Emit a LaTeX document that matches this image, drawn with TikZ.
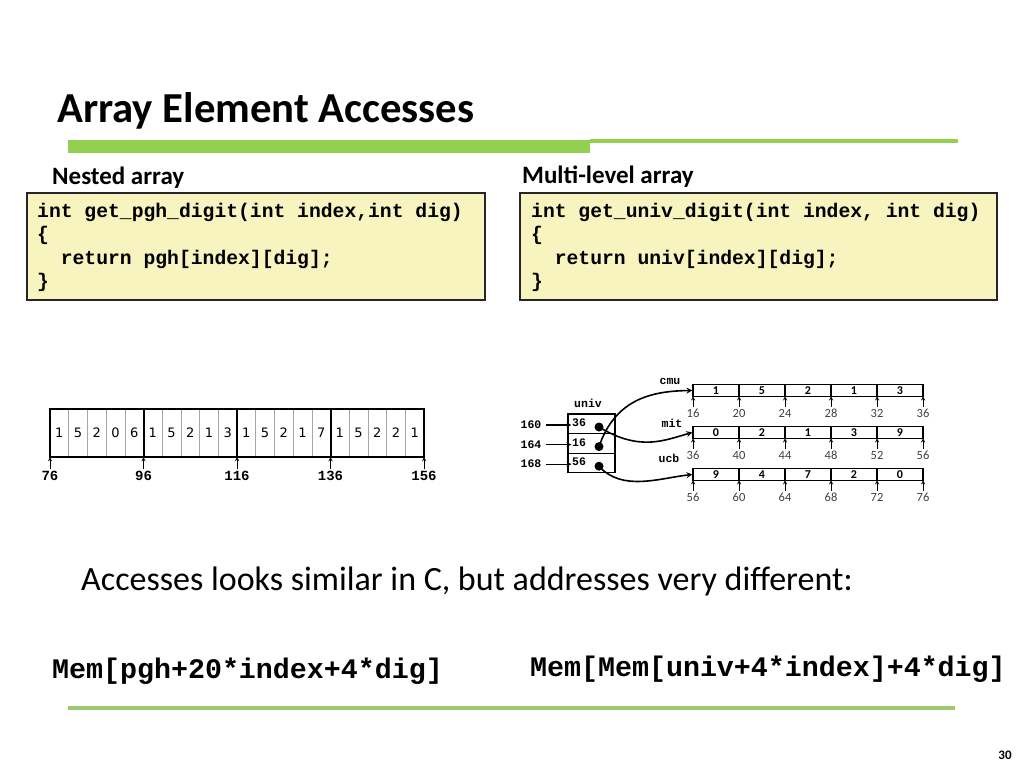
\documentclass[tikz,border=0pt]{standalone}
\usepackage{fontspec}
\setmainfont{Carlito}
\setmonofont{Liberation Mono}
\newfontfamily\digitfont{DejaVu Sans}
\definecolor{slidegreen}{HTML}{92D050}
\definecolor{codeyellow}{HTML}{F8F4C0}

\begin{document}
\begin{tikzpicture}[x=1pt,y=-1pt]
\tikzstyle{every node}=[inner sep=0pt]
\tikzstyle{codebox}=[draw=black!85,line width=1.3pt,fill=codeyellow,minimum height=107]
\tikzstyle{code}=[anchor=base west,font=\fontsize{19.7}{23}\selectfont\ttfamily\bfseries]
\tikzstyle{memline}=[anchor=base west,font=\fontsize{28.3}{32}\selectfont\ttfamily\bfseries]
\tikzstyle{heading}=[anchor=base west,font=\fontsize{25}{30}\selectfont\bfseries]
\tikzstyle{pghcell}=[draw=gray!70,line width=0.6pt,minimum width=18.7,minimum height=48,font=\fontsize{13}{14}\selectfont\digitfont]
\tikzstyle{addrlbl}=[font=\fontsize{14}{15}\selectfont\ttfamily\bfseries]
\tikzstyle{ptrlbl}=[font=\fontsize{11.5}{12}\selectfont\ttfamily\bfseries]
\tikzstyle{univcell}=[draw,line width=1.1pt,minimum width=47,minimum height=19.6]
\tikzstyle{rowcell}=[draw,line width=1.2pt,minimum width=46,minimum height=11.5,font=\fontsize{12}{13}\selectfont\bfseries]
\tikzstyle{rowlbl}=[text=black!75,font=\fontsize{12.5}{13}\selectfont]
\tikzstyle{dot}=[circle,fill,minimum size=9]
\tikzstyle{tickarr}=[->,>=stealth,line width=0.9pt,shorten <=2pt]
\tikzstyle{ptr}=[->,>=stealth,line width=1.6pt]
\useasboundingbox (0,0) rectangle (1024,768);

    % title and rule
    \node[anchor=base west,font=\fontsize{42.7}{50}\selectfont\bfseries] (title) at (57,122) {Array Element Accesses};
    \fill[slidegreen] (68,140) rectangle (590,153);
    \fill[slidegreen] (590,139.3) rectangle (958,142.7);

    % code boxes
    \node[heading] (nestedhd) at (52,184) {Nested array};
    \node[heading] (multihd) at (522,183) {Multi-level array};
    \node[codebox,minimum width=458] (pghbox) at (256,246.5) {};
    \node[codebox,minimum width=477] (univbox) at (758.5,246.5) {};
    \node[code] (pgh1) at (37,217) {int get\_pgh\_digit(int index,int dig)};
    \node[code] (pgh2) at (37,240.5) {\{};
    \node[code] (pgh3) at (37,264) {\hphantom{xx}return pgh[index][dig];};
    \node[code] (pgh4) at (37,287.5) {\}};
    \node[code] (univ1) at (531,217) {int get\_univ\_digit(int index, int dig)};
    \node[code] (univ2) at (531,240.5) {\{};
    \node[code] (univ3) at (531,264) {\hphantom{xx}return univ[index][dig];};
    \node[code] (univ4) at (531,287.5) {\}};

    % nested array pgh
    \foreach \d [count=\i from 0] in {1,5,2,0,6,1,5,2,1,3,1,5,2,1,7,1,5,2,2,1}
      \node[pghcell] (c\i) at ({59.35+18.7*\i},433) {\d};
    \draw[line width=1.8pt] (c0.north west) rectangle (c19.south east);
    \foreach \i in {4,9,14}
      \draw[line width=1.8pt] (c\i.north east) -- (c\i.south east);
    \foreach \a [count=\j from 0] in {76,96,116,136,156}{
      \coordinate (t\j) at ({50+93.5*\j},457);
      \node[addrlbl] (l\j) at ({50+93.5*\j},476) {\a};
      \draw[tickarr] (l\j.north) -- (t\j);
    }

    % multi-level array univ
    \node[ptrlbl] (univlbl) at (588,403) {univ};
    \foreach \v/\a [count=\i from 0] in {36/160,16/164,56/168}{
      \node[univcell] (u\i) at (591.5,{423.8+19.6*\i}) {};
      \node[ptrlbl,anchor=west] (uv\i) at (572,{423+19.6*\i}) {\v};
      \node[dot] (d\i) at (599,{427+19.6*\i}) {};
      \node[ptrlbl] (a\i) at (531,{425+19.6*\i}) {\a};
      \draw[->,>=stealth,line width=1.2pt] ([xshift=4pt]a\i.east) -- ([xshift=4pt]a\i.east -| u\i.west);
    }
    \node[ptrlbl] (cmulbl) at (670,381) {cmu};
    \node[ptrlbl] (mitlbl) at (672,423) {mit};
    \node[ptrlbl] (ucblbl) at (669,458) {ucb};
    \foreach \r/\ry/\digs/\addr in {cmu/390.5/{1,5,2,1,3}/16,mit/432.5/{0,2,1,3,9}/36,ucb/474.5/{9,4,7,2,0}/56}{
      \foreach \d [count=\k from 0] in \digs
        \node[rowcell] (\r\k) at ({716+46*\k},\ry) {\d};
      \foreach \k in {0,...,5}{
        \pgfmathtruncatemacro\ad{\addr+4*\k}
        \coordinate (\r-b\k) at ({693+46*\k},{\ry+5.75});
        \node[rowlbl] (\r-l\k) at ({693+46*\k},{\ry+23}) {\ad};
        \draw[tickarr] (\r-l\k.north) -- (\r-b\k);
      }
    }
    \draw[ptr] (d1.center) .. controls (615,400) and (650,391) .. (cmu0.west);
    \draw[ptr] (d0.center) .. controls (640,452) and (665,440) .. (mit0.west);
    \draw[ptr] (d2.center) .. controls (622,492) and (660,478) .. (ucb0.west);

    % bottom text
    \node[anchor=base west,font=\fontsize{34}{40}\selectfont] (body) at (81,590) {Accesses looks similar in C, but addresses very different:};
    \node[memline] (pghmem) at (52,678) {Mem[pgh+20*index+4*dig]};
    \node[memline] (univmem) at (530,676) {Mem[Mem[univ+4*index]+4*dig]};
    \draw[slidegreen!90!black!80,line width=4pt] (68,708) -- (955,708);
    \node[font=\fontsize{13}{14}\selectfont\bfseries] (pageno) at (1005,755) {30};
\end{tikzpicture}
\end{document}
